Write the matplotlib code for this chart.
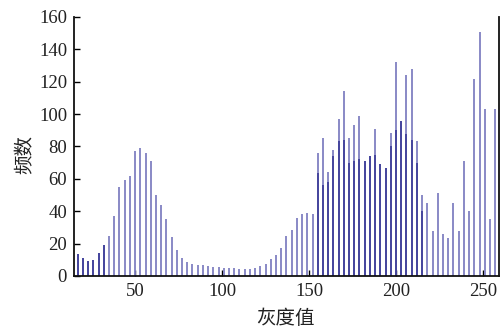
import matplotlib
matplotlib.use("Agg")
import matplotlib.pyplot as plt
import numpy as np

# gray level of each stem (every 3 levels)
gray_levels = list(range(17, 258, 3))

# total count per stem (full height, light part)
counts = [
    13.6, 11.3, 9.3, 9.7, 14.4, 19, 25, 37, 55, 59,
    62, 77, 79, 76, 71, 50, 44, 35, 24, 16,
    11, 8.5, 7.5, 7, 6.5, 6, 5.8, 5.5, 5.2, 5,
    4.8, 4.5, 4.3, 4.2, 4.7, 6.2, 7.5, 10.5, 13, 17.5,
    25, 28.5, 36, 38, 39, 38, 76, 85.5, 64, 78,
    97, 114, 85.5, 93, 99, 71, 74, 91, 69, 67,
    88.6, 132, 96, 124, 128, 83.5, 50, 45, 28, 51,
    26, 23.5, 45, 28, 71, 40, 122, 151, 103, 35,
    103,
]

# darker (overlapping neighbour bin) part of each stem
counts_dark = [
    13.6, 11.3, 9.3, 9.7, 14.4, 19, 0, 0, 0, 0,
    0, 0, 0, 0, 0, 0, 0, 0, 0, 0,
    0, 0, 0, 0, 0, 0, 0, 0, 0, 0,
    0, 0, 0, 0, 0, 0, 0, 0, 0, 0,
    0, 0, 0, 0, 0, 0, 63.5, 56, 58, 74,
    83.5, 84, 70, 71, 72, 71, 74, 75, 69, 67,
    80, 90, 96, 88, 84, 70, 40, 0, 0, 0,
    0, 0, 0, 0, 0, 0, 0, 0, 0, 0,
    0,
]

x_ticks = [50, 100, 150, 200, 250]
y_ticks = [0, 20, 40, 60, 80, 100, 120, 140, 160]

fig = plt.figure(figsize=(5.03, 3.31), dpi=100)
ax = fig.add_axes([74 / 503, 55 / 331, (499 - 74) / 503, (276 - 17) / 331])

x = np.array(gray_levels)
ax.vlines(x, 0, counts, colors="#8080c2", linewidth=1.3)
ax.vlines(x, 0, counts_dark, colors="#40409a", linewidth=1.3)

ax.set_xlim(14.9, 259.2)
ax.set_ylim(0, 160)
ax.set_xticks(x_ticks)
ax.set_yticks(y_ticks)

ax.spines["top"].set_visible(False)
for s in ["left", "bottom", "right"]:
    ax.spines[s].set_linewidth(1.3)
    ax.spines[s].set_color("#111111")

ax.tick_params(direction="in", length=4, width=1.0, pad=5,
               labelsize=13.5, top=False, right=False)
for lab in ax.get_xticklabels() + ax.get_yticklabels():
    lab.set_family(["Liberation Serif", "DejaVu Serif"])
    lab.set_color("#222222")

cjk = ["Noto Sans CJK SC", "DejaVu Sans"]
fig.text(285 / 503, 1 - 318 / 331, "灰度值", ha="center", va="center",
         fontsize=14, family=cjk, color="#222222")
fig.text(25 / 503, 1 - 155 / 331, "频数", ha="center", va="center",
         rotation=90, fontsize=14, family=cjk, color="#222222")

fig.savefig("out.png", dpi=100)
